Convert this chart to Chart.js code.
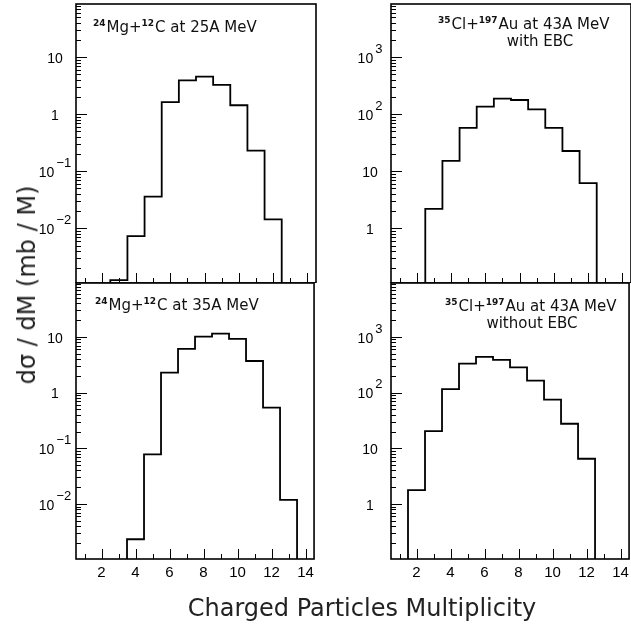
<!DOCTYPE html>
<html>
<head>
<meta charset="utf-8">
<script src="https://cdn.jsdelivr.net/npm/chart.js@4.4.0/dist/chart.umd.min.js"></script>
<style>
body { margin:0; background:#fff; width:631px; height:626px; overflow:hidden; position:relative; }
canvas { position:absolute; }
.note { position:absolute; font-family:"DejaVu Sans", sans-serif; font-size:15px; line-height:15px; color:#111; white-space:nowrap; }
.note .s { font-size:9px; font-weight:bold; position:relative; top:-6px; margin-right:1px; }
.title { position:absolute; font-family:"DejaVu Sans", sans-serif; font-size:24px; line-height:24px; color:#222; white-space:nowrap; }
</style>
</head>
<body>

<canvas id="tl" width="283" height="282" style="left:36px;top:1px"></canvas>
<canvas id="tr" width="283" height="282" style="left:351px;top:1px"></canvas>
<canvas id="bl" width="283" height="309" style="left:36px;top:280px"></canvas>
<canvas id="br" width="283" height="309" style="left:351px;top:280px"></canvas>

<div class="note" style="left:93px;top:20px"><span class="s">24</span>Mg+<span class="s">12</span>C at 25A MeV</div>
<div class="note" style="left:438px;top:17px"><span class="s">35</span>Cl+<span class="s">197</span>Au at 43A MeV</div>
<div class="note" style="left:540px;top:34px;transform:translateX(-50%)">with EBC</div>
<div class="note" style="left:95px;top:298px"><span class="s">24</span>Mg+<span class="s">12</span>C at 35A MeV</div>
<div class="note" style="left:445px;top:299px"><span class="s">35</span>Cl+<span class="s">197</span>Au at 43A MeV</div>
<div class="note" style="left:532px;top:316px;transform:translateX(-50%)">without EBC</div>

<div class="title" style="left:27px;top:285px;transform:translate(-50%,-50%) rotate(-90deg)">dσ / dM (mb / M)</div>
<div class="title" style="left:362px;top:596px;transform:translateX(-50%)">Charged Particles Multiplicity</div>

<script>
// multiplicity bins and cross sections (mb/M)
var mult25 = [3, 4, 5, 6, 7, 8, 9, 10, 11, 12];
var mg25 = [0.00124, 0.0073, 0.036, 1.64, 3.95, 4.57, 3.27, 1.44, 0.23, 0.0144];

var mult35 = [4, 5, 6, 7, 8, 9, 10, 11, 12, 13];
var mg35 = [0.00233, 0.078, 2.29, 6.1, 10.1, 11.5, 9.2, 3.7, 0.54, 0.0119];

var multEbc = [3, 4, 5, 6, 7, 8, 9, 10, 11, 12];
var clEbc = [2.2, 15.3, 58, 136, 188, 178, 122, 58, 22.7, 6.2];

var multNoEbc = [2, 3, 4, 5, 6, 7, 8, 9, 10, 11, 12];
var clNoEbc = [1.78, 20.4, 116, 333, 440, 388, 283, 164, 75, 27.6, 6.5];

var xTicks = [2, 4, 6, 8, 10, 12, 14];
var yTicksMg = [0.01, 0.1, 1, 10];
var yTicksCl = [1, 10, 100, 1000];

// histogram outline: value holds from left edge of each bin
function steps(mult, vals, floor) {
  var pts = [{x: mult[0] - 0.5, y: floor}];
  for (var i = 0; i < mult.length; i++) pts.push({x: mult[i] - 0.5, y: vals[i]});
  pts.push({x: mult[mult.length - 1] + 0.5, y: floor});
  return pts;
}

var frame = {
  id: 'frame',
  afterDraw: function(chart) {
    var ctx = chart.ctx, a = chart.chartArea, xs = chart.scales.x, ys = chart.scales.y;
    ctx.save();
    ctx.strokeStyle = '#000';
    ctx.lineWidth = 1;
    // x ticks, inside
    for (var m = Math.ceil(xs.min); m <= xs.max; m++) {
      var px = Math.round(xs.getPixelForValue(m)) + 0.5;
      var len = m % 2 === 0 ? 10 : 5;
      ctx.beginPath(); ctx.moveTo(px, a.bottom); ctx.lineTo(px, a.bottom - len); ctx.stroke();
    }
    // y ticks, inside
    var e0 = Math.floor(Math.log10(ys.min)), e1 = Math.ceil(Math.log10(ys.max));
    for (var e = e0; e <= e1; e++) {
      for (var k = 1; k < 10; k++) {
        var v = k * Math.pow(10, e);
        if (v < ys.min || v > ys.max) continue;
        var py = Math.round(ys.getPixelForValue(v)) + 0.5;
        var l = k === 1 ? 11 : 5;
        ctx.beginPath(); ctx.moveTo(a.left, py); ctx.lineTo(a.left + l, py); ctx.stroke();
      }
    }
    // y labels
    ctx.fillStyle = '#000';
    ctx.textBaseline = 'middle';
    ctx.textAlign = 'left';
    ys.ticks.forEach(function(t) {
      var py = ys.getPixelForValue(t.value);
      var ex = Math.round(Math.log10(t.value));
      var base = ex === 0 ? '1' : '10';
      var sup = (ex === 0 || ex === 1) ? '' : (ex < 0 ? '\u2212' + (-ex) : String(ex));
      ctx.font = '14px "Liberation Sans", Arial, sans-serif';
      var wb = ctx.measureText(base).width;
      ctx.font = '13px "Liberation Sans", Arial, sans-serif';
      var ws = sup ? ctx.measureText(sup).width + 2 : 0;
      var x0 = a.left - 21 - (wb + ws) / 2;
      ctx.font = '14px "Liberation Sans", Arial, sans-serif';
      ctx.fillText(base, x0, py + 2);
      if (sup) {
        ctx.font = '13px "Liberation Sans", Arial, sans-serif';
        ctx.fillText(sup, x0 + wb + 2, py - 8);
      }
    });
    // frame
    ctx.lineWidth = 1.6;
    ctx.strokeRect(a.left, a.top, a.right - a.left, a.bottom - a.top);
    ctx.restore();
  }
};

function panel(id, mult, vals, yMin, yMax, yTicks, showX) {
  new Chart(document.getElementById(id), {
    type: 'line',
    data: {
      datasets: [{
        data: steps(mult, vals, yMin),
        stepped: true,
        borderColor: '#000',
        borderWidth: 1.8,
        pointRadius: 0,
        fill: false
      }]
    },
    options: {
      responsive: false,
      animation: false,
      devicePixelRatio: 1,
      layout: {padding: {top: 3, right: 3, left: 0, bottom: 0}},
      plugins: {legend: {display: false}, tooltip: {enabled: false}},
      scales: {
        x: {
          type: 'linear', min: 0.5, max: 14.5, display: showX,
          afterBuildTicks: function(s) { s.ticks = xTicks.map(function(v) { return {value: v}; }); },
          afterFit: function(s) { s.height = showX ? 30 : 0; },
          ticks: {color: '#000', font: {family: '"Liberation Sans", Arial, sans-serif', size: 15}, padding: 5, maxRotation: 0, autoSkip: false},
          grid: {display: false, drawTicks: false},
          border: {display: false}
        },
        y: {
          type: 'logarithmic', min: yMin, max: yMax,
          afterBuildTicks: function(s) { s.ticks = yTicks.map(function(v) { return {value: v}; }); },
          afterFit: function(s) { s.width = 40; },
          ticks: {display: false},
          grid: {display: false},
          border: {display: false}
        }
      }
    },
    plugins: [frame]
  });
}

panel('tl', mult25, mg25, 0.0011, 86, yTicksMg, false);
panel('tr', multEbc, clEbc, 0.11, 8600, yTicksCl, false);
panel('bl', mult35, mg35, 0.00103, 93, yTicksMg, true);
panel('br', multNoEbc, clNoEbc, 0.103, 9300, yTicksCl, true);
</script>
</body>
</html>
